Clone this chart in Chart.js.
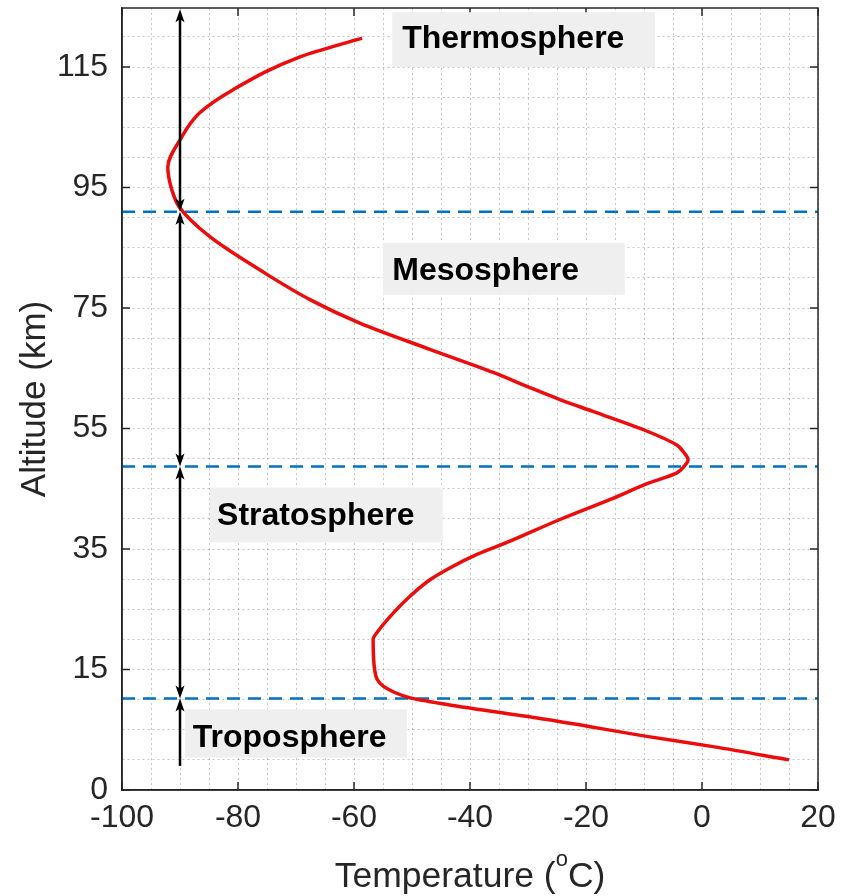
<!DOCTYPE html>
<html><head><meta charset="utf-8">
<script src="https://cdn.jsdelivr.net/npm/chart.js@4"></script>
<style>html,body{margin:0;padding:0;background:#fff;}canvas{display:block;}</style>
</head><body>
<canvas id="c" width="841" height="896"></canvas>
<script>
// ---- data ----
const altitudeKm   = [0, 2.2, 3.9, 6.7, 9.2, 10.3, 12.2, 14.7, 20, 21.3, 24.4, 27.2, 29.9, 31.9, 34.1, 36.3, 39.9, 43.2, 46.0, 47.6, 48.7, 49.8, 51.1, 52.3, 54.8, 57.8, 59.8, 62.0, 64.3, 68.1, 72.5, 76.4, 81.3, 86.8, 91.6, 94.6, 98.4, 102.9, 107.4, 111.2, 116.7, 119.8];
const temperatureC = [15, 1.9, -9.5, -26.7, -44, -50.3, -54.9, -56.4, -56.7, -55.9, -53.2, -50.3, -46.9, -43.4, -38.8, -33.1, -24.5, -15.9, -9.0, -4.4, -3.1, -2.4, -3.2, -4.4, -10.1, -18.7, -24.5, -30.2, -36, -46.8, -59, -67.6, -76.2, -84.8, -90, -91.4, -92.1, -90, -86.6, -80.9, -69.3, -58.6];
const boundaryKm = [10.2, 48.7, 91];
const boundaryTempRange = [-100, 20];
const regionNames = ['Thermosphere', 'Mesosphere', 'Stratosphere', 'Troposphere'];
const arrowTempC = -90;
const arrowSpansKm = [[-1, 10.2], [10.2, 48.7], [48.7, 91], [91, 124.6]];
const arrowHeads = ['end', 'both', 'both', 'both'];
const xTickValues = [-100, -80, -60, -40, -20, 0, 20];
const xTickLabels = ['-100', '-80', '-60', '-40', '-20', '0', '20'];
const yTickValues = [-5, 15, 35, 55, 75, 95, 115];
const yTickLabels = ['0', '15', '35', '55', '75', '95', '115'];

// ---- layout / style (not data) ----
const X_MIN = -100, X_MAX = 20, Y_MIN = -5, Y_MAX = 124.8;
const xGrid = []; for (let v = X_MIN; v <= X_MAX; v += 5) xGrid.push(v);
const yGrid = []; for (let v = Y_MIN; v <= 120; v += 5) yGrid.push(v);
const labelLayout = [
  {box: [-53.4, -8.1, 115.0, 124.1], text: [-51.7, 118.2]},
  {box: [-55.0, -13.3, 77.2, 85.8], text: [-53.4, 79.7]},
  {box: [-84.8, -44.7, 36.1, 45.2], text: [-83.6, 39.0]},
  {box: [-89.1, -50.9, 0.4, 8.4], text: [-87.8, 2.2]}
];
const TEXT = '#262626';
const FONT = "'Liberation Sans', Arial, Helvetica, sans-serif";

const curve = altitudeKm.map((z, i) => ({x: temperatureC[i], y: z}));
const datasets = [{
  data: curve, showLine: true, borderColor: 'rgb(236,12,12)', borderWidth: 3.5,
  pointRadius: 0, indexAxis: 'y', cubicInterpolationMode: 'monotone', fill: false, order: 1
}].concat(boundaryKm.map(z => ({
  data: boundaryTempRange.map(t => ({x: t, y: z})), showLine: true,
  borderColor: 'rgb(0,114,189)', borderWidth: 2.5, borderDash: [13, 8],
  pointRadius: 0, fill: false, order: 2
})));

const framePlugin = {
  id: 'frame',
  afterDatasetsDraw(chart) {
    const {ctx, chartArea: a, scales: {x, y}} = chart;
    ctx.save();
    ctx.strokeStyle = TEXT; ctx.lineWidth = 1.5;
    ctx.strokeRect(a.left, a.top, a.right - a.left, a.bottom - a.top);
    ctx.beginPath();
    const L = 8;
    xTickValues.forEach(v => {
      const px = x.getPixelForValue(v);
      ctx.moveTo(px, a.bottom); ctx.lineTo(px, a.bottom - L);
      ctx.moveTo(px, a.top); ctx.lineTo(px, a.top + L);
    });
    yTickValues.forEach(v => {
      const py = y.getPixelForValue(v);
      ctx.moveTo(a.left, py); ctx.lineTo(a.left + L, py);
      ctx.moveTo(a.right, py); ctx.lineTo(a.right - L, py);
    });
    ctx.stroke();

    // arrows
    ctx.strokeStyle = '#000'; ctx.fillStyle = '#000'; ctx.lineWidth = 2.5;
    const ax = x.getPixelForValue(arrowTempC);
    const head = (tipY, dir) => {
      ctx.beginPath();
      ctx.moveTo(ax, tipY);
      ctx.lineTo(ax - 4.5, tipY + dir * 13);
      ctx.lineTo(ax, tipY + dir * 10);
      ctx.lineTo(ax + 4.5, tipY + dir * 13);
      ctx.closePath(); ctx.fill();
    };
    arrowSpansKm.forEach((s, i) => {
      const y0 = y.getPixelForValue(s[0]), y1 = y.getPixelForValue(s[1]);
      const h = arrowHeads[i];
      ctx.beginPath();
      ctx.moveTo(ax, h === 'both' ? y0 - 8 : y0);
      ctx.lineTo(ax, y1 + 8);
      ctx.stroke();
      head(y1, 1);
      if (h === 'both') head(y0, -1);
    });

    // region labels
    ctx.font = "bold 32px " + FONT;
    ctx.textAlign = 'left'; ctx.textBaseline = 'alphabetic';
    regionNames.forEach((name, i) => {
      const b = labelLayout[i].box, t = labelLayout[i].text;
      const bx0 = x.getPixelForValue(b[0]), bx1 = x.getPixelForValue(b[1]);
      const by0 = y.getPixelForValue(b[3]), by1 = y.getPixelForValue(b[2]);
      ctx.fillStyle = '#efefef';
      ctx.fillRect(bx0, by0, bx1 - bx0, by1 - by0);
      ctx.fillStyle = '#000';
      ctx.fillText(name, x.getPixelForValue(t[0]), y.getPixelForValue(t[1]));
    });
    ctx.restore();
  },
  afterDraw(chart) {
    const {ctx, chartArea: a} = chart;
    ctx.save();
    ctx.fillStyle = TEXT; ctx.textBaseline = 'alphabetic'; ctx.textAlign = 'left';
    const big = "35.5px " + FONT, small = "22px " + FONT;
    ctx.font = big; const w1 = ctx.measureText('Temperature (').width;
    const w3 = ctx.measureText('C)').width;
    ctx.font = small; const w2 = ctx.measureText('o').width;
    const total = w1 + w2 + w3;
    let sx = (a.left + a.right) / 2 - total / 2;
    const base = 887;
    ctx.font = big; ctx.fillText('Temperature (', sx, base);
    ctx.font = small; ctx.fillText('o', sx + w1, base - 21);
    ctx.font = big; ctx.fillText('C)', sx + w1 + w2, base);
    ctx.restore();
  }
};

new Chart(document.getElementById('c'), {
  type: 'scatter',
  data: {datasets},
  options: {
    responsive: false, animation: false, devicePixelRatio: 1,
    layout: {padding: {left: 0, top: 8, right: 23, bottom: 0}},
    plugins: {legend: {display: false}, tooltip: {enabled: false}},
    scales: {
      x: {
        type: 'linear', min: X_MIN, max: X_MAX,
        afterBuildTicks: s => { s.ticks = xGrid.map(v => ({value: v})); },
        afterFit: s => { s.height = 106; s.paddingLeft = 0; s.paddingRight = 0; },
        grid: {color: 'rgba(0,0,0,0.22)', lineWidth: 1, drawTicks: false},
        border: {display: true, color: TEXT, width: 1.5, dash: [2, 3]},
        ticks: {
          autoSkip: false, maxRotation: 0, padding: 9, color: TEXT,
          font: {family: FONT, size: 32},
          callback: v => { const i = xTickValues.indexOf(v); return i < 0 ? '' : xTickLabels[i]; }
        }
      },
      y: {
        type: 'linear', min: Y_MIN, max: Y_MAX,
        afterBuildTicks: s => { s.ticks = yGrid.map(v => ({value: v})); },
        afterFit: s => { s.width = 122; s.paddingTop = 0; s.paddingBottom = 0; },
        grid: {color: 'rgba(0,0,0,0.22)', lineWidth: 1, drawTicks: false},
        border: {display: true, color: TEXT, width: 1.5, dash: [2, 3]},
        title: {display: true, text: 'Altitude (km)', color: TEXT, font: {family: FONT, size: 35}, padding: {top: 14, bottom: 0}},
        ticks: {
          autoSkip: false, padding: 14, color: TEXT,
          font: {family: FONT, size: 32},
          callback: v => { const i = yTickValues.indexOf(v); return i < 0 ? '' : yTickLabels[i]; }
        }
      }
    }
  },
  plugins: [framePlugin]
});
</script>
</body></html>
